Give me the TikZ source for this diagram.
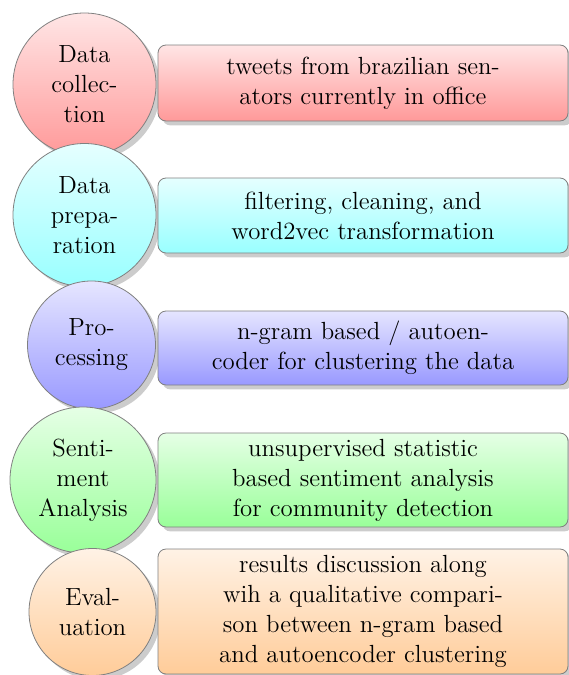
\documentclass[tikz,border=0pt]{standalone}
\usepackage{fontspec}
\usetikzlibrary{shadows}
\begin{document}
\begin{tikzpicture}[x=0.5pt,y=-0.5pt,
  txt/.style={font=\fontsize{12.4}{15}\selectfont, align=center, text=black},
  circ/.style={circle, draw=black!50, line width=0.4pt, inner sep=0pt, txt,
    drop shadow={shadow xshift=2.2pt, shadow yshift=-2.2pt, opacity=0.4}},
  descbox/.style={rectangle, rounded corners=4pt, draw=black!50, line width=0.4pt,
    inner sep=0pt, minimum width=205pt, txt,
    drop shadow={shadow xshift=2.2pt, shadow yshift=-2.2pt, opacity=0.4}},
  shadecol/.style={top color=#1!10, bottom color=#1!40}
]
\useasboundingbox (0,0) rectangle (568,675);

\node[circ, shadecol=red, minimum size=71.5pt] (c1) at (84.5,84.5) {Data\\collec-\\tion};
\node[descbox, shadecol=red, minimum height=38pt] (b1) at (363,83) {tweets from brazilian sen-\\ators currently in office};

\node[circ, shadecol=cyan, minimum size=71.5pt] (c2) at (84.5,215) {Data\\prepa-\\ration};
\node[descbox, shadecol=cyan, minimum height=37.5pt] (b2) at (363,215.5) {filtering, cleaning, and\\word2vec transformation};

\node[circ, shadecol=blue, minimum size=64pt] (c3) at (91.5,345) {Pro-\\cessing};
\node[descbox, shadecol=blue, minimum height=37pt] (b3) at (363,348) {n-gram based / autoen-\\coder for clustering the data};

\node[circ, shadecol=green, minimum size=73pt] (c4) at (83,480) {Senti-\\ment\\Analysis};
\node[descbox, shadecol=green, minimum height=47pt] (b4) at (363,480) {unsupervised statistic\\based sentiment analysis\\for community detection};

\node[circ, shadecol=orange, minimum size=63.5pt] (c5) at (92.5,612) {Eval-\\uation};
\node[descbox, shadecol=orange, minimum height=62.5pt] (b5) at (363,611.5) {results discussion along\\wih a qualitative compari-\\son between n-gram based\\and autoencoder clustering};
\end{tikzpicture}
\end{document}
